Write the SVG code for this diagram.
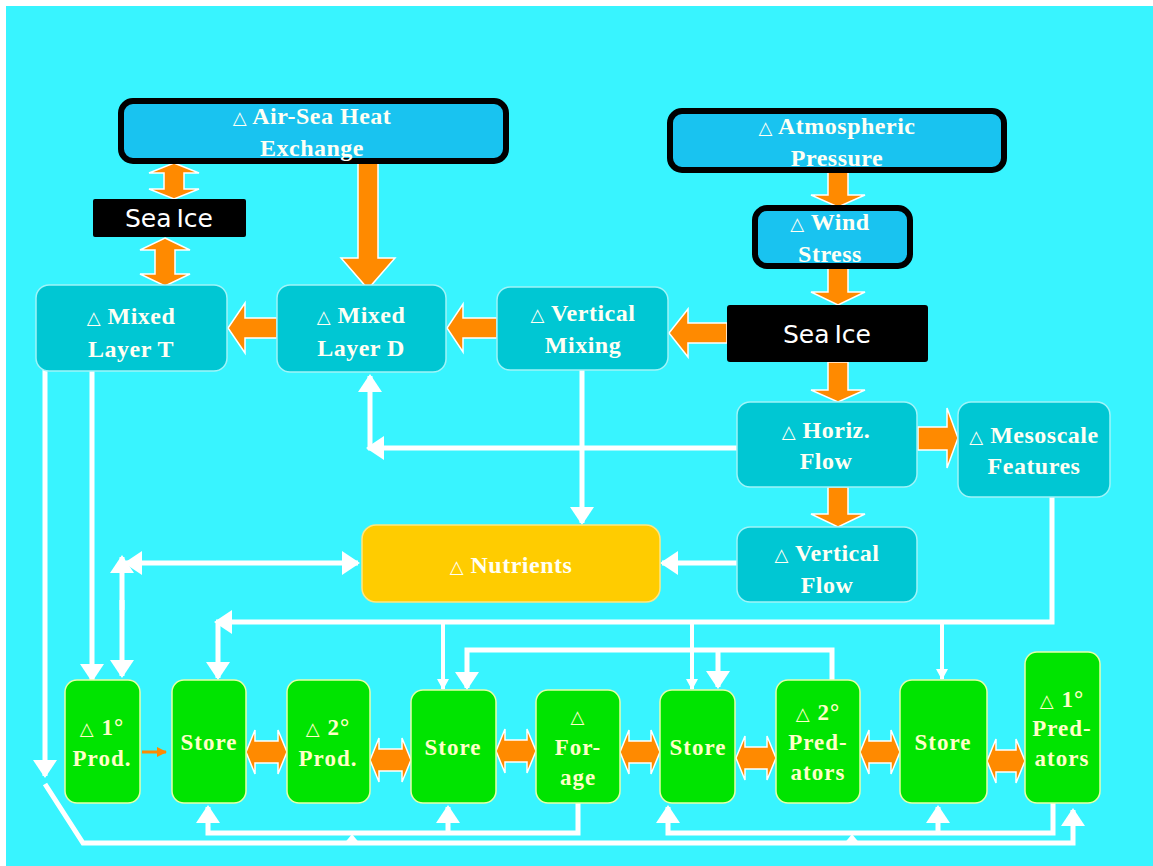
<svg xmlns="http://www.w3.org/2000/svg" width="1153" height="866" viewBox="0 0 1153 866">
<defs>
<style>
.bg{fill:#38F4FF}
.blue{fill:#19C3F0;stroke:#000;stroke-width:6}
.teal{fill:#00C7D3;stroke:#9FF4F8;stroke-width:1.5}
.green{fill:#00E400;stroke:#E8FFA8;stroke-width:1.5}
.yel{fill:#FFCC00;stroke:#FFE680;stroke-width:1.5}
.ice{fill:#000}
.t{font-family:"Liberation Serif","Times New Roman",serif;font-weight:bold;font-size:24px;letter-spacing:0.5px;fill:#FFFFF4;text-anchor:middle}
.tg{font-family:"Liberation Serif","Times New Roman",serif;font-weight:bold;font-size:23px;letter-spacing:1px;fill:#FFFFC8;text-anchor:middle}
.d{font-family:"DejaVu Sans",sans-serif;font-weight:normal;font-size:18px}
.si{font-family:"DejaVu Sans",sans-serif;font-size:25px;fill:#fff;text-anchor:middle;word-spacing:-3px}
.w{fill:none;stroke:#fff;stroke-width:5}
.ws{fill:none;stroke:#fff;stroke-width:4}
.or{fill:#FF8A00;stroke:#fff;stroke-width:1.5;stroke-linejoin:miter}
.tri{fill:#fff}
</style>
<marker id="ah" markerUnits="userSpaceOnUse" markerWidth="22" markerHeight="24" refX="16" refY="12" orient="auto">
<path d="M0,0 L18,12 L0,24 Z" fill="#fff"/>
</marker>
<marker id="as" markerUnits="userSpaceOnUse" markerWidth="14" markerHeight="14" refX="10" refY="7" orient="auto">
<path d="M0,1 L11,7 L0,13 Z" fill="#fff"/>
</marker>
<marker id="ao" markerUnits="userSpaceOnUse" markerWidth="12" markerHeight="10" refX="9" refY="5" orient="auto">
<path d="M0,0 L10,5 L0,10 Z" fill="#FF8A00"/>
</marker>
</defs>
<rect x="0" y="0" width="1153" height="866" fill="#fff"/>
<rect class="bg" x="6" y="6" width="1147" height="860"/>

<g id="connectors">
<path class="w" d="M92,370 V680" marker-end="url(#ah)"/>
<path class="w" d="M45,370 V776" marker-end="url(#ah)"/>
<path class="w" d="M45,784 L83,843 H1073 V810" marker-end="url(#ah)"/>
<path class="w" d="M737,448 H368" marker-end="url(#ah)"/>
<path class="w" d="M370,450 V376" marker-end="url(#ah)"/>
<path class="w" d="M582,370 V523" marker-end="url(#ah)"/>
<path class="w" d="M737,563 H662" marker-end="url(#ah)"/>
<path class="w" d="M240,563 H358" marker-end="url(#ah)"/>
<path class="w" d="M240,563 H126" marker-end="url(#ah)"/>
<path class="w" d="M122,610 V557" marker-end="url(#ah)"/>
<path class="w" d="M122,600 V676" marker-end="url(#ah)"/>
<path class="w" d="M1052,497 V622 H216" marker-end="url(#ah)"/>
<path class="w" d="M218,622 V678" marker-end="url(#ah)"/>
<path class="ws" d="M942,622 V679" marker-end="url(#as)"/>
<path class="ws" d="M692,622 V689" marker-end="url(#as)"/>
<path class="ws" d="M443,622 V689" marker-end="url(#as)"/>
<path class="w" d="M832,680 V650 H467 V688" marker-end="url(#ah)"/>
<path class="w" d="M718,650 V687" marker-end="url(#ah)"/>
<path class="w" d="M578,803 V833 H208 V807" marker-end="url(#ah)"/>
<path class="w" d="M448,833 V807" marker-end="url(#ah)"/>
<path class="w" d="M1053,803 V833 H668 V807" marker-end="url(#ah)"/>
<path class="w" d="M938,833 V807" marker-end="url(#ah)"/>
<polygon class="tri" points="343,845 352,834 361,845"/>
<polygon class="tri" points="843,845 852,834 861,845"/>
<path d="M142,752 H166" stroke="#FF8A00" stroke-width="3" marker-end="url(#ao)"/>
<polygon class="or" points="174,163 199,173 184,173 184,189 199,189 174,199 149,189 164,189 164,173 149,173"/>
<polygon class="or" points="165,238 190,250 175,250 175,274 190,274 165,286 140,274 155,274 155,250 140,250"/>
<polygon class="or" points="358,163 378,163 378,258 395,258 368,289 341,258 358,258"/>
<polygon class="or" points="277,318 277,338 245,338 245,353 228,328 245,303 245,318"/>
<polygon class="or" points="497,318 497,338 463,338 463,352 447,328 463,304 463,318"/>
<polygon class="or" points="727,323 727,343 688,343 688,357 669,333 688,309 688,323"/>
<polygon class="or" points="828,172 848,172 848,195 865,195 838,207 811,195 828,195"/>
<polygon class="or" points="828,268 848,268 848,292 865,292 838,305 811,292 828,292"/>
<polygon class="or" points="828,362 848,362 848,390 865,390 838,402 811,390 828,390"/>
<polygon class="or" points="918,427 947,427 947,408 958,438 947,468 947,450 918,450"/>
<polygon class="or" points="828,487 848,487 848,514 865,514 838,527 811,514 828,514"/>
<polygon class="or" points="246,752 255,730 255,741 278,741 278,730 287,752 278,774 278,763 255,763 255,774"/>
<polygon class="or" points="370,760 379,738 379,749 402,749 402,738 411,760 402,782 402,771 379,771 379,782"/>
<polygon class="or" points="496,751 505,729 505,740 527,740 527,729 536,751 527,773 527,762 505,762 505,773"/>
<polygon class="or" points="620,752 629,730 629,741 651,741 651,730 660,752 651,774 651,763 629,763 629,774"/>
<polygon class="or" points="736,758 745,736 745,747 767,747 767,736 776,758 767,780 767,769 745,769 745,780"/>
<polygon class="or" points="860,752 869,730 869,741 891,741 891,730 900,752 891,774 891,763 869,763 869,774"/>
<polygon class="or" points="987,761 996,739 996,750 1016,750 1016,739 1025,761 1016,783 1016,772 996,772 996,783"/>
</g>

<g id="air-sea">
<rect class="blue" x="121" y="101" width="385" height="60" rx="12"/>
<text class="t" x="312" y="124"><tspan class="d">△</tspan> Air-Sea Heat</text>
<text class="t" x="312" y="156">Exchange</text>
</g>
<g id="atmos">
<rect class="blue" x="670" y="111" width="334" height="59" rx="12"/>
<text class="t" x="837" y="134"><tspan class="d">△</tspan> Atmospheric</text>
<text class="t" x="837" y="166">Pressure</text>
</g>
<g id="wind">
<rect class="blue" x="755" y="208" width="155" height="58" rx="12"/>
<text class="t" x="830" y="230"><tspan class="d">△</tspan> Wind</text>
<text class="t" x="830" y="262">Stress</text>
</g>
<g id="seaice-left">
<rect class="ice" x="93" y="199" width="153" height="38" rx="2"/>
<text class="si" x="169" y="227">Sea Ice</text>
</g>
<g id="seaice-right">
<rect class="ice" x="727" y="305" width="201" height="57" rx="3"/>
<text class="si" x="827" y="343">Sea Ice</text>
</g>
<g id="mixed-t">
<rect class="teal" x="36" y="285" width="191" height="86" rx="13"/>
<text class="t" x="131" y="324"><tspan class="d">△</tspan> Mixed</text>
<text class="t" x="131" y="357">Layer T</text>
</g>
<g id="mixed-d">
<rect class="teal" x="277" y="285" width="169" height="87" rx="13"/>
<text class="t" x="361" y="323"><tspan class="d">△</tspan> Mixed</text>
<text class="t" x="361" y="356">Layer D</text>
</g>
<g id="vert-mixing">
<rect class="teal" x="497" y="287" width="171" height="83" rx="13"/>
<text class="t" x="583" y="321"><tspan class="d">△</tspan> Vertical</text>
<text class="t" x="583" y="353">Mixing</text>
</g>
<g id="horiz-flow">
<rect class="teal" x="737" y="402" width="180" height="85" rx="13"/>
<text class="t" x="826" y="438"><tspan class="d">△</tspan> Horiz.</text>
<text class="t" x="826" y="469">Flow</text>
</g>
<g id="mesoscale">
<rect class="teal" x="958" y="402" width="152" height="95" rx="13"/>
<text class="t" x="1034" y="443"><tspan class="d">△</tspan> Mesoscale</text>
<text class="t" x="1034" y="474">Features</text>
</g>
<g id="vert-flow">
<rect class="teal" x="737" y="527" width="180" height="75" rx="13"/>
<text class="t" x="827" y="561"><tspan class="d">△</tspan> Vertical</text>
<text class="t" x="827" y="593">Flow</text>
</g>
<g id="nutrients">
<rect class="yel" x="362" y="525" width="298" height="77" rx="14"/>
<text class="t" x="511" y="573"><tspan class="d">△</tspan> Nutrients</text>
</g>

<g id="prod1">
<rect class="green" x="65" y="680" width="75" height="123" rx="12"/>
<text class="tg" x="102" y="735"><tspan class="d">△</tspan> 1°</text>
<text class="tg" x="102" y="766">Prod.</text>
</g>
<g id="store1">
<rect class="green" x="172" y="680" width="74" height="123" rx="12"/>
<text class="tg" x="209" y="750">Store</text>
</g>
<g id="prod2">
<rect class="green" x="287" y="680" width="83" height="123" rx="12"/>
<text class="tg" x="328" y="735"><tspan class="d">△</tspan> 2°</text>
<text class="tg" x="328" y="766">Prod.</text>
</g>
<g id="store2">
<rect class="green" x="411" y="690" width="85" height="113" rx="12"/>
<text class="tg" x="453" y="755">Store</text>
</g>
<g id="forage">
<rect class="green" x="536" y="690" width="84" height="113" rx="12"/>
<text class="tg" x="578" y="723"><tspan class="d">△</tspan></text>
<text class="tg" x="578" y="755">For-</text>
<text class="tg" x="578" y="785">age</text>
</g>
<g id="store3">
<rect class="green" x="660" y="690" width="75" height="113" rx="12"/>
<text class="tg" x="698" y="755">Store</text>
</g>
<g id="pred2">
<rect class="green" x="776" y="680" width="84" height="123" rx="12"/>
<text class="tg" x="818" y="720"><tspan class="d">△</tspan> 2°</text>
<text class="tg" x="818" y="750">Pred-</text>
<text class="tg" x="818" y="780">ators</text>
</g>
<g id="store4">
<rect class="green" x="900" y="680" width="87" height="123" rx="12"/>
<text class="tg" x="943" y="750">Store</text>
</g>
<g id="pred1">
<rect class="green" x="1025" y="652" width="75" height="151" rx="12"/>
<text class="tg" x="1062" y="707"><tspan class="d">△</tspan> 1°</text>
<text class="tg" x="1062" y="736">Pred-</text>
<text class="tg" x="1062" y="766">ators</text>
</g>
</svg>
